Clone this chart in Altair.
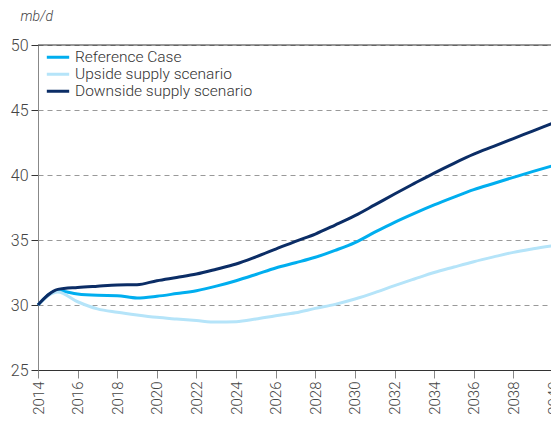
import altair as alt
import pandas as pd

years = list(range(2014, 2041))
reference = [30.0, 31.1, 30.85, 30.75, 30.72, 30.54, 30.67, 30.88, 31.1, 31.45, 31.87,
             32.35, 32.85, 33.25, 33.67, 34.2, 34.8, 35.6, 36.36, 37.05, 37.7, 38.3,
             38.87, 39.35, 39.82, 40.28, 40.72]
upside = [30.0, 31.0, 30.25, 29.7, 29.44, 29.23, 29.05, 28.92, 28.8, 28.69, 28.72,
          28.92, 29.18, 29.4, 29.74, 30.05, 30.46, 30.95, 31.49, 32.0, 32.5, 32.92,
          33.33, 33.7, 34.05, 34.32, 34.56]
downside = [30.0, 31.2, 31.35, 31.45, 31.54, 31.56, 31.87, 32.12, 32.38, 32.75, 33.15,
            33.7, 34.3, 34.9, 35.46, 36.15, 36.87, 37.7, 38.54, 39.35, 40.15, 40.9,
            41.6, 42.2, 42.8, 43.4, 44.0]
series_names = ["Reference Case", "Upside supply scenario", "Downside supply scenario"]
series_colors = ["#00aeef", "#b5e4f9", "#0b2d66"]
x_ticks = list(range(2014, 2041, 2))
y_ticks = [25, 30, 35, 40, 45, 50]

rows = []
for name, vals in zip(series_names, [reference, upside, downside]):
    for yr, v in zip(years, vals):
        rows.append({"year": yr, "value": v, "series": name})
df = pd.DataFrame(rows)

FONT = "Roboto"

x = alt.X("year:Q", scale=alt.Scale(domain=[2014, 2040], nice=False),
          axis=alt.Axis(values=x_ticks, format="d", labelAngle=-90, labelAlign="right",
                        labelBaseline="middle", labelPadding=3, tickSize=8,
                        tickColor="#888888", domainColor="#333333", grid=False,
                        title=None, labelFontSize=15, labelColor="#444444",
                        labelFont=FONT, labelFontWeight=300, labelOverlap=False,
                        labelBound=False))
y = alt.Y("value:Q", scale=alt.Scale(domain=[25, 50], nice=False, zero=False),
          axis=alt.Axis(values=y_ticks, tickSize=7, tickColor="#333333",
                        domainColor="#888888", grid=True, gridDash=[5, 4],
                        gridColor="#999999", gridWidth=1,
                        labelFontSize=16, labelColor="#444444", labelPadding=3,
                        labelFont=FONT, labelFontWeight=300,
                        title="mb/d", titleAngle=0, titleX=-18, titleY=-25,
                        titleAlign="left", titleBaseline="alphabetic",
                        titleFontStyle="italic", titleFontWeight=300,
                        titleFontSize=14, titleColor="#444444", titleFont=FONT))

lines = alt.Chart(df).mark_line(strokeWidth=3, interpolate="monotone").encode(
    x=x, y=y,
    color=alt.Color("series:N",
                    scale=alt.Scale(domain=series_names, range=series_colors),
                    legend=alt.Legend(title=None, orient="none", legendX=7, legendY=4,
                                      symbolType="stroke", symbolStrokeWidth=3,
                                      symbolSize=500, labelFontSize=15.5,
                                      labelFont=FONT, labelFontWeight=300,
                                      labelColor="#333333", clipHeight=16.5,
                                      rowPadding=0, labelOffset=4, labelLimit=0)),
    order=alt.Order("order:Q"),
).transform_calculate(
    order="datum.series == 'Reference Case' ? 2 : (datum.series == 'Upside supply scenario' ? 1 : 3)"
)

top = alt.Chart(pd.DataFrame({"v": [50]})).mark_rule(color="#333333", strokeWidth=1).encode(
    y=alt.Y("v:Q", scale=alt.Scale(domain=[25, 50]))
)

chart = alt.layer(lines, top).properties(
    width=515, height=325,
    autosize=alt.AutoSizeParams(type="none"),
    padding={"left": 30, "top": 37, "right": -2, "bottom": 46},
).configure_view(stroke=None)

chart.save("out.html", embed_options={"renderer": "svg", "actions": False})
